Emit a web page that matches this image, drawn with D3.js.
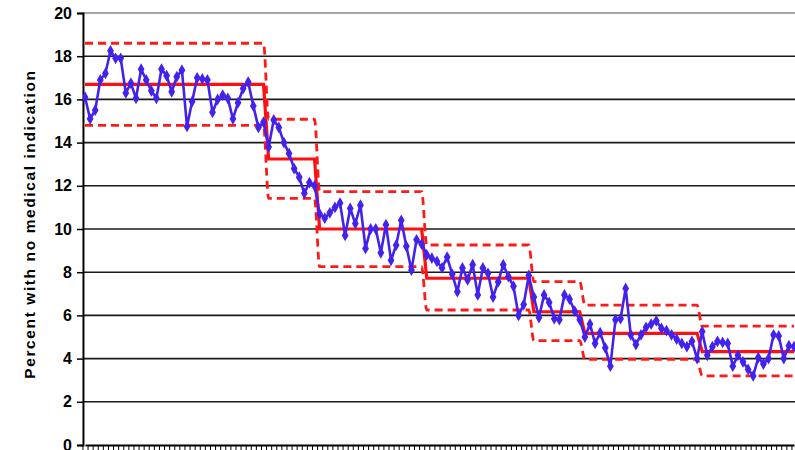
<!DOCTYPE html>
<html lang="en">
<head>
<meta charset="utf-8">
<title>Percent with no medical indication</title>
<script src="https://d3js.org/d3.v7.min.js"></script>
<style>
  body { margin: 0; background: #fff; }
  svg { display: block; font-family: "Liberation Sans", Arial, sans-serif; }
  .tick text { font-family: "Liberation Sans Narrow", "Arial Narrow", "Liberation Sans", sans-serif; font-size: 16px; font-weight: bold; fill: #000; }
</style>
</head>
<body>
<div id="my_dataviz"></div>
<script>

// monthly percentages, one array per phase
var phase1 = [16.1,15.1,15.5,16.9,17.2,18.25,17.9,17.9,16.3,16.75,16.05,17.4,16.9,16.4,16.05,17.4,17.1,16.35,17.05,17.35,14.75,15.9,17.0,16.95,16.9,15.4,16.0,16.2,16.05,15.1,15.85,16.5,16.8,15.7,14.7,14.95];
var phase2 = [13.8,15.05,14.7,14.0,13.5,12.8,12.4,11.65,12.15,12.0];
var phase3 = [10.7,10.5,10.75,11.0,11.2,9.7,10.95,10.25,11.1,9.1,10.0,10.0,8.9,10.2,8.55,9.25,10.4,9.2,8.1,9.5,9.3];
var phase4 = [8.8,8.65,8.5,8.2,8.7,7.9,7.1,8.2,7.65,8.35,6.95,8.2,7.95,6.85,7.55,8.35,7.8,7.35,6.0,6.5,7.85];
var phase5 = [6.85,5.9,6.95,6.6,5.85,5.8,6.95,6.75,6.2,5.8];
var phase6 = [5.0,5.6,4.7,5.2,4.5,3.65,5.8,5.85,7.25,5.1,4.65,5.1,5.45,5.6,5.75,5.4,5.3,5.1,4.9,4.7,4.55,4.8,4.0];
var phase7 = [5.25,4.15,4.55,4.8,4.75,4.7,3.65,4.15,3.85,3.5,3.2,4.05,3.75,4.0,5.1,5.05,4.0,4.6,4.55];

// centre line and control limits per phase
var phaseMean = [16.7, 13.24, 10.0, 7.72, 6.17, 5.17, 4.32];
var phaseUCL  = [18.6, 15.08, 11.73, 9.26, 7.56, 6.48, 5.5];
var phaseLCL  = [14.8, 11.42, 8.26, 6.25, 4.83, 3.97, 3.2];

var yTicks = [0, 2, 4, 6, 8, 10, 12, 14, 16, 18, 20];

var phases = [phase1, phase2, phase3, phase4, phase5, phase6, phase7];

// flatten into one series, remembering which phase each point is in
var data = [];
phases.forEach(function(p, k) {
  p.forEach(function(v) { data.push({i: data.length, value: v, phase: k}); });
});
var n = data.length;

var W = 795, H = 450;
var svg = d3.select("#my_dataviz")
  .append("svg")
    .attr("width", W)
    .attr("height", H);

var x = d3.scaleLinear()
  .domain([0, n - 1])
  .range([85, 794]);

var y = d3.scaleLinear()
  .domain([0, 20])
  .range([445, 13]);

var left = x(-0.4);

svg.append("defs").append("clipPath").attr("id", "plot")
  .append("rect")
    .attr("x", left)
    .attr("y", 0)
    .attr("width", W - left)
    .attr("height", y(0) + 1);

// gridlines
svg.append("g")
  .selectAll("line")
  .data(yTicks.filter(function(t) { return t > 0; }))
  .enter()
  .append("line")
    .attr("x1", left)
    .attr("x2", W)
    .attr("y1", function(d) { return y(d); })
    .attr("y2", function(d) { return y(d); })
    .attr("stroke", function(d) { return d == 20 ? "#8a8a8a" : "#1a1a1a"; })
    .attr("stroke-width", 1.6);

// Y axis
var yAxis = svg.append("g")
  .attr("transform", "translate(" + left + ",0)")
  .call(d3.axisLeft(y).tickValues(yTicks).tickSize(6).tickPadding(5).tickFormat(d3.format("d")));
yAxis.select(".domain").attr("stroke", "#000").attr("stroke-width", 2);
yAxis.selectAll(".tick line").attr("stroke", "#000").attr("stroke-width", 1.5);

// X axis: one small tick per month, no labels
var xAxis = svg.append("g")
  .attr("transform", "translate(0," + y(0) + ")")
  .call(d3.axisBottom(x)
    .tickValues(d3.range(n + 1).map(function(i) { return i - 0.5; }))
    .tickSize(5)
    .tickSizeOuter(0)
    .tickFormat(""));
xAxis.select(".domain").attr("stroke", "#000").attr("stroke-width", 2);
xAxis.selectAll(".tick line").attr("stroke", "#000").attr("stroke-width", 1);

// Y axis title
svg.append("text")
  .attr("transform", "translate(35," + 224 + ")rotate(-90)")
  .attr("text-anchor", "middle")
  .style("font-size", "15.5px")
  .style("font-weight", "bold")
  .style("letter-spacing", "1.6px")
  .text("Percent with no medical indication");

var plot = svg.append("g").attr("clip-path", "url(#plot)");

// control limits (dashed) and centre line
var limitLine = d3.line()
  .x(function(d) { return x(d.i); })
  .curve(d3.curveMonotoneX);

[phaseUCL, phaseLCL].forEach(function(lim) {
  plot.append("path")
    .datum(data)
    .attr("fill", "none")
    .attr("stroke", "#ff1a1a")
    .attr("stroke-width", 2.8)
    .attr("stroke-dasharray", "8,5")
    .attr("d", limitLine.y(function(d) { return y(lim[d.phase]); }));
});

plot.append("path")
  .datum(data)
  .attr("fill", "none")
  .attr("stroke", "#ff1010")
  .attr("stroke-width", 3.2)
  .attr("d", d3.line()
    .x(function(d) { return x(d.i); })
    .y(function(d) { return y(phaseMean[d.phase]); }));

// the series
plot.append("path")
  .datum(data)
  .attr("fill", "none")
  .attr("stroke", "#4422ee")
  .attr("stroke-width", 2.6)
  .attr("d", d3.line()
    .x(function(d) { return x(d.i); })
    .y(function(d) { return y(d.value); }));

plot.selectAll("path.pt")
  .data(data)
  .enter()
  .append("path")
    .attr("class", "pt")
    .attr("transform", function(d) { return "translate(" + x(d.i) + "," + y(d.value) + ")"; })
    .attr("d", d3.symbol().type(d3.symbolDiamond).size(40))
    .attr("fill", "#4422ee");

</script>
</body>
</html>
